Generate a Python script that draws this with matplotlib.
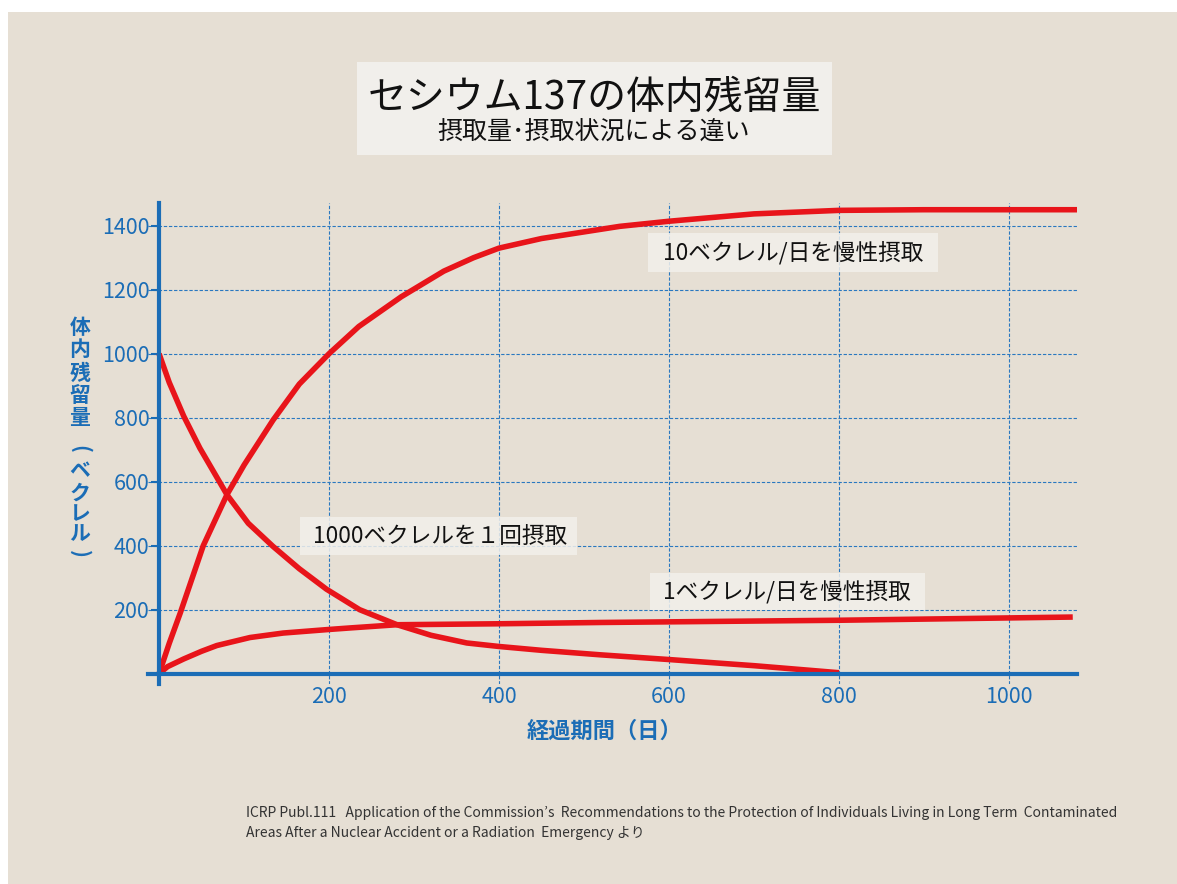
import matplotlib
matplotlib.use('Agg')
import matplotlib.pyplot as plt
from matplotlib.patches import Rectangle

# 日数と体内残留量(ベクレル) - グラフから読み取った値
dias_10 = [0, 12, 25, 52, 80, 100, 134, 165, 200, 235, 285, 335, 370, 400, 450, 542, 600, 700, 800, 900, 1000, 1080]
bq_10 = [0, 95, 190, 400, 560, 652, 792, 905, 1000, 1085, 1178, 1258, 1300, 1330, 1360, 1398, 1414, 1437, 1448, 1450, 1450, 1450]

dias_1000 = [0, 12, 29, 48, 80, 105, 134, 165, 197, 236, 280, 320, 362, 400, 450, 519, 601, 700, 800]
bq_1000 = [1000, 910, 805, 705, 559, 470, 398, 328, 264, 200, 153, 120, 96, 85, 73, 59, 44, 25, 3]

dias_1 = [0, 10, 29, 50, 68, 107, 146, 199, 225, 280, 401, 519, 601, 801, 1075]
bq_1 = [0, 22, 46, 70, 88, 113, 127, 138, 143, 153, 156, 160, 162, 167, 177]

xticks = [200, 400, 600, 800, 1000]
yticks = [200, 400, 600, 800, 1000, 1200, 1400]

titulo = 'セシウム137の体内残留量'
subtitulo = '摂取量･摂取状況による違い'
rotulo_x = '経過期間（日）'
rotulo_y1 = ['体', '内', '残', '留', '量']
rotulo_y2 = ['ベ', 'ク', 'レ', 'ル']
fonte_txt = 'ICRP Publ.111   Application of the Commission’s  Recommendations to the Protection of Individuals Living in Long Term  Contaminated'
fonte_txt2 = 'Areas After a Nuclear Accident or a Radiation  Emergency より'

W, H = 1177, 884
azul = '#1b6db6'
vermelho = '#e8141a'
jp = 'Noto Sans CJK JP'

fig = plt.figure(figsize=(W / 100, H / 100), dpi=100)
fig.patch.set_facecolor('white')
fig.patches.append(Rectangle((8 / W, 0), 1, 1 - 12 / H, transform=fig.transFigure,
                             facecolor='#e6dfd4', edgecolor='none', zorder=-10))

# caixa do titulo
fig.patches.append(Rectangle((357 / W, 1 - 155 / H), 475 / W, 93 / H, transform=fig.transFigure,
                             facecolor='#f1efeb', edgecolor='none', zorder=-5))
fig.text(594 / W, 1 - 98 / H, titulo, family=jp, fontsize=28,
         ha='center', va='center', color='#111')
fig.text(594 / W, 1 - 133 / H, subtitulo, family=jp, fontsize=18,
         ha='center', va='center', color='#111')

ax = fig.add_axes([148 / W, 1 - 683.6 / H, (1077 - 148) / W, (683.6 - 203) / H])
ax.set_zorder(2)
ax.set_facecolor('none')
ax.set_xlim(-13, 1080)
ax.set_ylim(-31, 1471)

for s in ['top', 'right']:
    ax.spines[s].set_visible(False)
for s in ['left', 'bottom']:
    ax.spines[s].set_position(('data', 0))
    ax.spines[s].set_color(azul)
    ax.spines[s].set_linewidth(3)
    ax.spines[s].set_zorder(4)

ax.set_xticks(xticks)
ax.set_yticks(yticks)
ax.tick_params(axis='y', direction='out', length=6, width=1.5, color=azul, pad=1,
               labelsize=15.5, labelcolor=azul)
ax.tick_params(axis='x', length=0, pad=9, labelsize=15.5, labelcolor=azul)
for lb in ax.get_xticklabels() + ax.get_yticklabels():
    lb.set_family(jp)

ax.grid(True, color='#2a78c0', linewidth=0.8, linestyle=(0, (3, 1.6)))
ax.set_axisbelow(True)

ax.plot(dias_10, bq_10, color=vermelho, lw=4, solid_capstyle='butt', zorder=3)
ax.plot(dias_1000, bq_1000, color=vermelho, lw=4, solid_capstyle='butt', zorder=3)
ax.plot(dias_1, bq_1, color=vermelho, lw=4, solid_capstyle='butt', zorder=3)

# caixas dos rotulos das curvas
rotulos = [('10ベクレル/日を慢性摂取', 648, 233, 290, 39, 793),
           ('1000ベクレルを１回摂取', 300, 517, 277, 38, 440),
           ('1ベクレル/日を慢性摂取', 650, 573, 275, 37, 787)]
for txt, x0, y0, w, h, xc in rotulos:
    fig.patches.append(Rectangle((x0 / W, 1 - (y0 + h) / H), w / W, h / H, transform=fig.transFigure,
                                 facecolor='#f2f0eb', edgecolor='none', alpha=0.85, zorder=5))
    fig.text(xc / W, 1 - (y0 + h / 2) / H, txt, family=jp, fontsize=16.3, ha='center', va='center',
             color='#111', zorder=6)

fig.text(605 / W, 1 - 731 / H, rotulo_x, family=jp, fontsize=16, fontweight='bold',
         ha='center', va='center', color=azul)

ys1 = [328, 350, 373, 396, 418]
for c, y in zip(rotulo_y1, ys1):
    fig.text(80 / W, 1 - y / H, c, family=jp, fontsize=15, fontweight='bold', ha='center', va='center', color=azul)
fig.text(80 / W, 1 - 449 / H, '(', family=jp, fontsize=15, fontweight='bold', rotation=-90,
         ha='center', va='center', color=azul)
ys2 = [471, 493, 514, 534]
for c, y in zip(rotulo_y2, ys2):
    fig.text(80 / W, 1 - y / H, c, family=jp, fontsize=15, fontweight='bold', ha='center', va='center', color=azul)
fig.text(80 / W, 1 - 554 / H, ')', family=jp, fontsize=15, fontweight='bold', rotation=-90,
         ha='center', va='center', color=azul)

fig.text(246 / W, 1 - 813 / H, fonte_txt, family=jp, fontsize=10, ha='left', va='center', color='#333')
fig.text(246 / W, 1 - 833 / H, fonte_txt2, family=jp, fontsize=10, ha='left', va='center', color='#333')

fig.savefig('out.png', dpi=100)
